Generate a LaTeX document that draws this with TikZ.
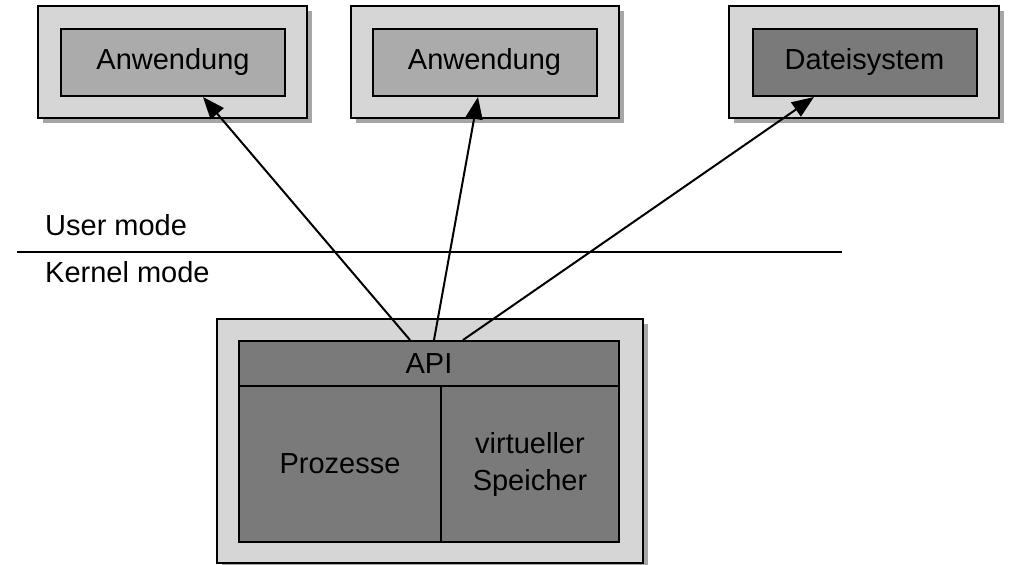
\documentclass[tikz,border=0pt]{standalone}
\usepackage{fontspec}
\setmainfont{Liberation Sans}
\usetikzlibrary{positioning,arrows.meta,shadows}
\definecolor{framegray}{gray}{0.84}
\definecolor{appgray}{gray}{0.67}
\definecolor{coregray}{gray}{0.48}

\begin{document}
\begin{tikzpicture}[x=1pt,y=-1pt,
	every node/.style={font=\fontsize{29}{37}\selectfont, inner sep=0pt},
	outerbox/.style={draw, line width=2pt, fill=framegray,
		drop shadow={shadow xshift=5pt,shadow yshift=-5pt,fill=black,opacity=0.35}},
	appbox/.style={draw, line width=2pt, fill=appgray, minimum width=224pt, minimum height=67pt},
	corebox/.style={draw, line width=2pt, fill=coregray},
	call/.style={-{Triangle[length=22pt,width=17pt]}, line width=2pt}]
	\useasboundingbox (0,0) rectangle (1010,565);
	
	%%%% USER SIDE
	\node[outerbox, minimum width=269pt, minimum height=112pt] (frameA) at (172.5,62) {};
	\node[appbox] (appA) at (173,62.5) {Anwendung};
	\node[outerbox, minimum width=268pt, minimum height=112pt] (frameB) at (485,62) {};
	\node[appbox] (appB) at (484.5,62.5) {Anwendung};
	\node[outerbox, minimum width=270pt, minimum height=112pt] (frameC) at (864,62) {};
	\node[appbox, fill=coregray] (files) at (864.5,62.5) {Dateisystem};
	
	%%%% MODE BOUNDARY
	\coordinate (lineL) at (17,252);
	\coordinate (lineR) at (842,252);
	\draw[line width=2pt] (lineL) -- (lineR);
	\node[anchor=base west] (usermode) at (45,235) {User mode};
	\node[anchor=base west] (kernelmode) at (45,282) {Kernel mode};
	
	%%%% KERNEL
	\node[outerbox, minimum width=426pt, minimum height=244pt] (kernel) at (430,441) {};
	\node[corebox, minimum width=380pt, minimum height=45pt] (api) at (429,363.5) {API};
	\node[corebox, minimum width=202pt, minimum height=156pt] (procs) at (340,464) {Prozesse};
	\node[corebox, minimum width=178pt, minimum height=156pt, align=center] (vmem) at (530,464) {virtueller\\Speicher};
	
	\draw[call] ([xshift=-19pt]api.north) -- ([xshift=30pt]appA.south);
	\draw[call] ([xshift=5pt]api.north) -- ([xshift=-6.5pt]appB.south);
	\draw[call] ([xshift=34pt]api.north) -- ([xshift=-50.5pt]files.south);
\end{tikzpicture}
\end{document}
